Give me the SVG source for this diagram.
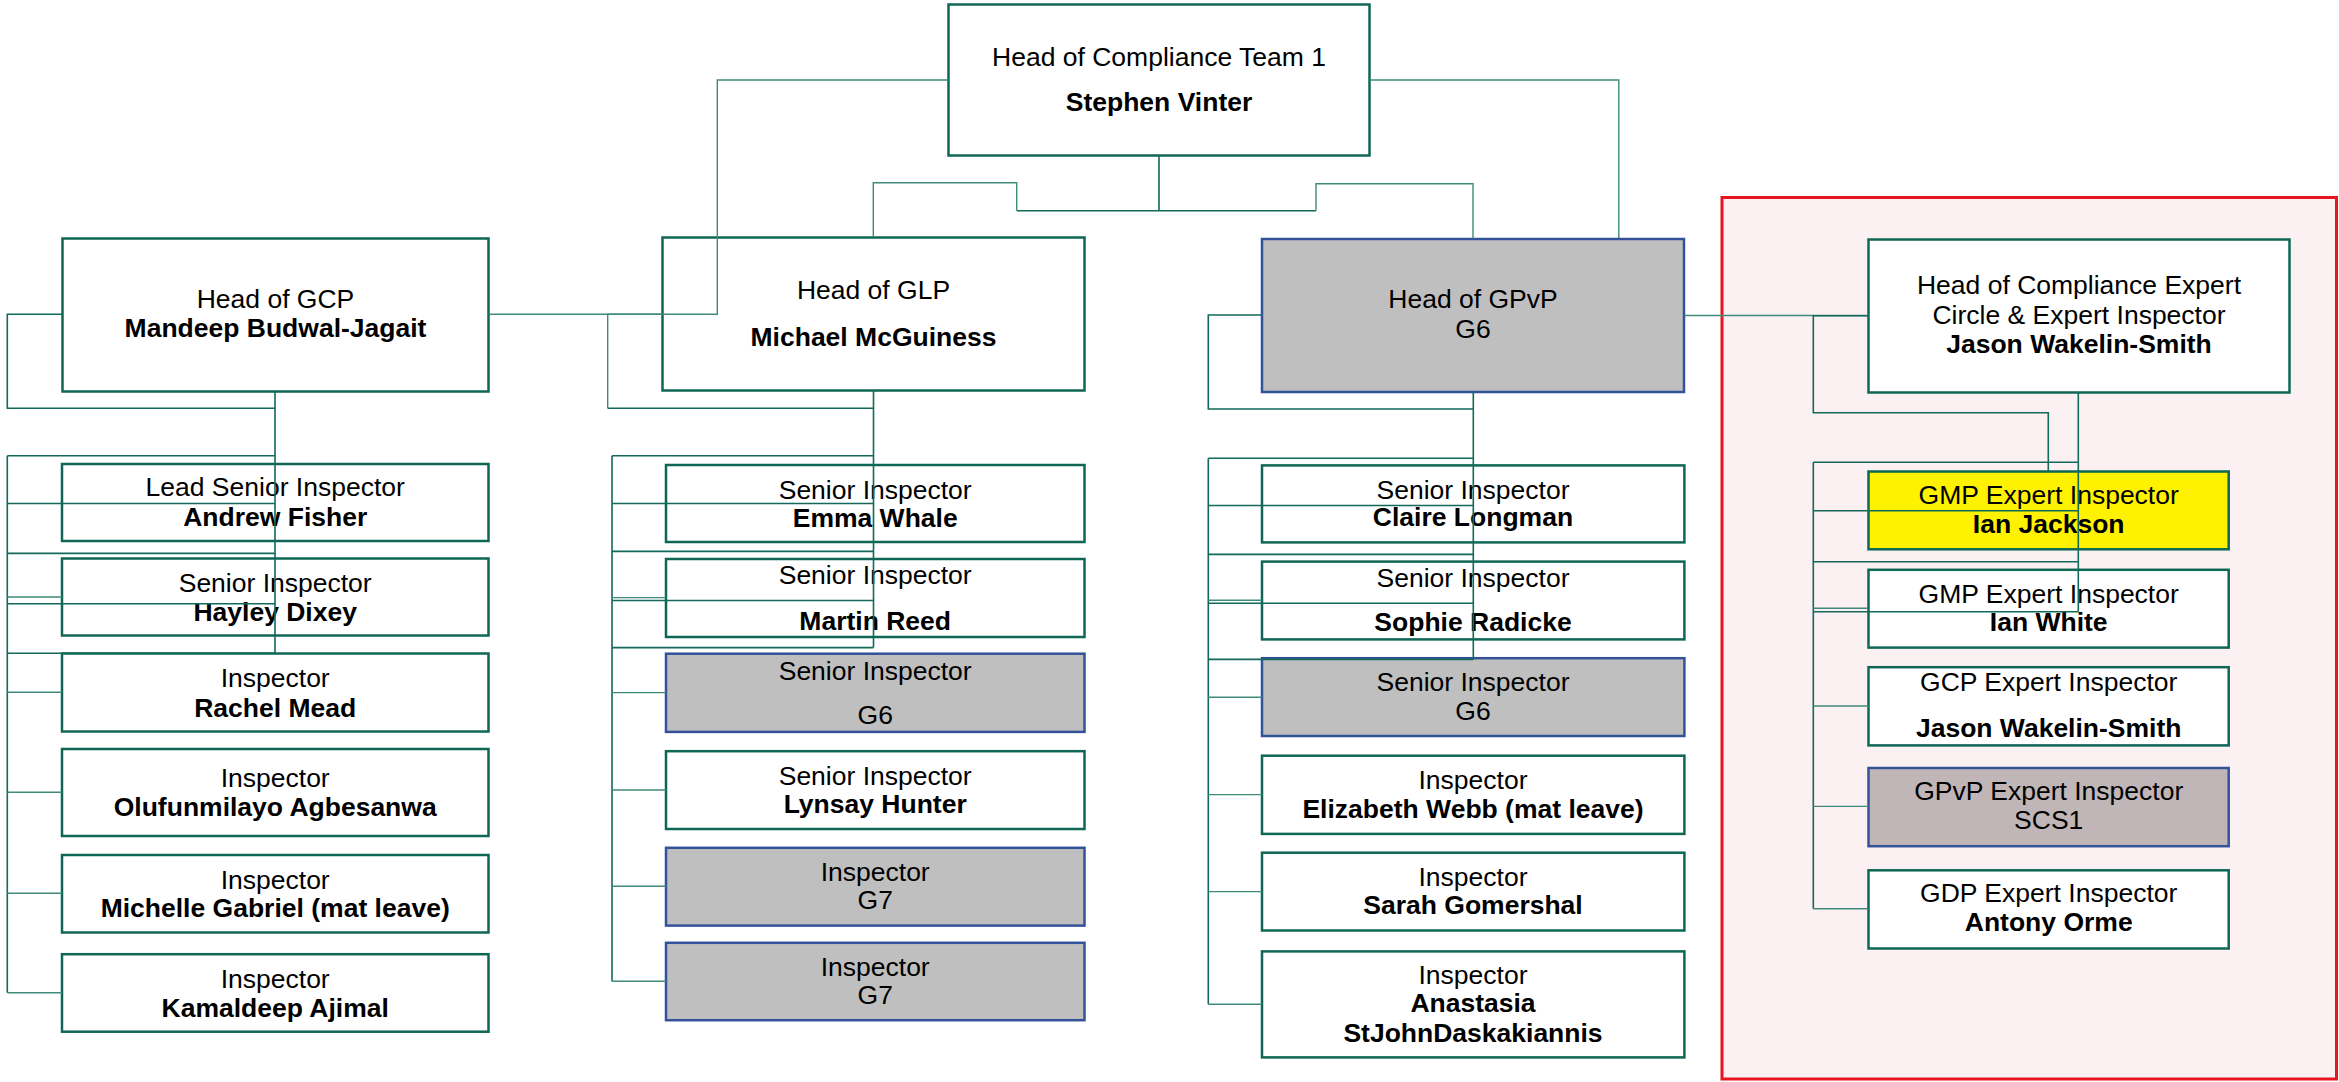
<svg xmlns="http://www.w3.org/2000/svg" width="2339" height="1082" viewBox="0 0 2339 1082">
<style>
.box{fill:#ffffff;stroke:#0e6655;stroke-width:2.5}
.grey{fill:#bfbfbf;stroke:#34529a;stroke-width:2.5}
.yel{fill:#fff200;stroke:#0e6655;stroke-width:2.5}
.mauve{fill:#c0b6b7;stroke:#34529a;stroke-width:2.5}
.t{font-family:"Liberation Sans",Arial,sans-serif;font-size:26.5px;fill:#000;text-anchor:middle}
.b{font-weight:bold}
.c{fill:none;stroke:#13695a;stroke-width:1.6}
.cl{fill:none;stroke:#3f8a7a;stroke-width:1.4}
</style>
<rect width="2339" height="1082" fill="#ffffff"/>
<g id="expert-panel"><rect x="1722" y="197.5" width="614.5" height="881.5" fill="#fcf1f2" stroke="#e8141f" stroke-width="3"/></g>

<g id="n-top"><rect class="box" x="948.5" y="4.5" width="421" height="151"/><text class="t" x="1159" y="65.5">Head of Compliance Team 1</text><text class="t b" x="1159" y="110.5">Stephen Vinter</text></g>
<g id="n-gcp"><rect class="box" x="62.5" y="238.5" width="426" height="153"/><text class="t" x="275.5" y="308.3">Head of GCP</text><text class="t b" x="275.5" y="337.3">Mandeep Budwal-Jagait</text></g>
<g id="n-glp"><rect class="box" x="662.5" y="237.5" width="422" height="153"/><text class="t" x="873.5" y="299.3">Head of GLP</text><text class="t b" x="873.5" y="345.7">Michael McGuiness</text></g>
<g id="n-gpvp"><rect class="grey" x="1262" y="239" width="422" height="153"/><text class="t" x="1473" y="308.3">Head of GPvP</text><text class="t" x="1473" y="337.7">G6</text></g>
<g id="n-expert"><rect class="box" x="1868.5" y="239.5" width="421" height="153"/><text class="t" x="2079" y="294.3">Head of Compliance Expert</text><text class="t" x="2079" y="324">Circle &amp; Expert Inspector</text><text class="t b" x="2079" y="352.7">Jason Wakelin-Smith</text></g>

<g id="n-fisher"><rect class="box" x="62" y="464" width="426.5" height="77"/><text class="t" x="275.2" y="496">Lead Senior Inspector</text><text class="t b" x="275.2" y="526">Andrew Fisher</text></g>
<g id="n-dixey"><rect class="box" x="62" y="558.5" width="426.5" height="77"/><text class="t" x="275.2" y="591.5">Senior Inspector</text><text class="t b" x="275.2" y="620.5">Hayley Dixey</text></g>
<g id="n-mead"><rect class="box" x="62" y="653.5" width="426.5" height="78"/><text class="t" x="275.2" y="687">Inspector</text><text class="t b" x="275.2" y="716.5">Rachel Mead</text></g>
<g id="n-agbesanwa"><rect class="box" x="62" y="749" width="426.5" height="87"/><text class="t" x="275.2" y="787">Inspector</text><text class="t b" x="275.2" y="816">Olufunmilayo Agbesanwa</text></g>
<g id="n-gabriel"><rect class="box" x="62" y="855" width="426.5" height="77.5"/><text class="t" x="275.2" y="888.5">Inspector</text><text class="t b" x="275.2" y="917">Michelle Gabriel (mat leave)</text></g>
<g id="n-ajimal"><rect class="box" x="62" y="954.2" width="426.5" height="77.5"/><text class="t" x="275.2" y="987.5">Inspector</text><text class="t b" x="275.2" y="1016.5">Kamaldeep Ajimal</text></g>

<g id="n-whale"><rect class="box" x="666" y="465" width="418.5" height="77"/><text class="t" x="875.2" y="498.5">Senior Inspector</text><text class="t b" x="875.2" y="526.5">Emma Whale</text></g>
<g id="n-reed"><rect class="box" x="666" y="559" width="418.5" height="78"/><text class="t" x="875.2" y="584">Senior Inspector</text><text class="t b" x="875.2" y="630">Martin Reed</text></g>
<g id="n-glp-g6"><rect class="grey" x="666" y="653.7" width="418.5" height="78.2"/><text class="t" x="875.2" y="679.5">Senior Inspector</text><text class="t" x="875.2" y="723.5">G6</text></g>
<g id="n-hunter"><rect class="box" x="666" y="751.2" width="418.5" height="77.8"/><text class="t" x="875.2" y="784.7">Senior Inspector</text><text class="t b" x="875.2" y="813.4">Lynsay Hunter</text></g>
<g id="n-glp-g7a"><rect class="grey" x="666" y="847.8" width="418.5" height="77.8"/><text class="t" x="875.2" y="881.4">Inspector</text><text class="t" x="875.2" y="909.2">G7</text></g>
<g id="n-glp-g7b"><rect class="grey" x="666" y="942.8" width="418.5" height="77.4"/><text class="t" x="875.2" y="976.4">Inspector</text><text class="t" x="875.2" y="1004.2">G7</text></g>

<g id="n-longman"><rect class="box" x="1262" y="465.4" width="422.4" height="77"/><text class="t" x="1473" y="498.5">Senior Inspector</text><text class="t b" x="1473" y="526.4">Claire Longman</text></g>
<g id="n-radicke"><rect class="box" x="1262" y="561.6" width="422.4" height="77.8"/><text class="t" x="1473" y="586.6">Senior Inspector</text><text class="t b" x="1473" y="631.2">Sophie Radicke</text></g>
<g id="n-gpvp-g6"><rect class="grey" x="1262" y="658.2" width="422.4" height="77.8"/><text class="t" x="1473" y="690.6">Senior Inspector</text><text class="t" x="1473" y="720">G6</text></g>
<g id="n-webb"><rect class="box" x="1262" y="755.7" width="422.4" height="78.2"/><text class="t" x="1473" y="788.8">Inspector</text><text class="t b" x="1473" y="817.5">Elizabeth Webb (mat leave)</text></g>
<g id="n-gomershal"><rect class="box" x="1262" y="852.7" width="422.4" height="77.8"/><text class="t" x="1473" y="885.5">Inspector</text><text class="t b" x="1473" y="914.1">Sarah Gomershal</text></g>
<g id="n-daskakiannis"><rect class="box" x="1262" y="951.4" width="422.4" height="106"/><text class="t" x="1473" y="983.7">Inspector</text><text class="t b" x="1473" y="1012">Anastasia</text><text class="t b" x="1473" y="1041.9">StJohnDaskakiannis</text></g>

<g id="n-jackson"><rect class="yel" x="1868.5" y="471.5" width="360.2" height="77.8"/><text class="t" x="2048.7" y="504.3">GMP Expert Inspector</text><text class="t b" x="2048.7" y="533">Ian Jackson</text></g>
<g id="n-white"><rect class="box" x="1868.5" y="569.8" width="360.2" height="77.8"/><text class="t" x="2048.7" y="602.5">GMP Expert Inspector</text><text class="t b" x="2048.7" y="631.2">Ian White</text></g>
<g id="n-wakelin"><rect class="box" x="1868.5" y="667.2" width="360.2" height="78.2"/><text class="t" x="2048.7" y="691">GCP Expert Inspector</text><text class="t b" x="2048.7" y="736.8">Jason Wakelin-Smith</text></g>
<g id="n-scs1"><rect class="mauve" x="1868.5" y="768" width="360.2" height="78.2"/><text class="t" x="2048.7" y="800.3">GPvP Expert Inspector</text><text class="t" x="2048.7" y="829">SCS1</text></g>
<g id="n-orme"><rect class="box" x="1868.5" y="870.3" width="360.2" height="78.2"/><text class="t" x="2048.7" y="901.8">GDP Expert Inspector</text><text class="t b" x="2048.7" y="931.3">Antony Orme</text></g>

<g id="connectors">
<!-- top level -->
<path class="cl" d="M948 80H717.3V314.3H488.8"/>
<path class="cl" d="M1370 80H1618.8V238"/>
<path class="c" d="M1159 156V210.7M1016.7 210.7H1316"/>
<path class="cl" d="M1016.7 210.7V182.7H873.3V237"/>
<path class="cl" d="M1316 210.7V183.7H1473V238.5"/>
<path class="cl" d="M1684.4 315.5H1868.3"/>
<!-- GCP column -->
<path class="c" d="M62 314.3H7.3V408.3H275M275 391.7V653.3"/>
<path class="c" d="M7.3 455.7V992.7"/>
<path class="c" d="M7.3 455.7H275M7.3 503.5H275M7.3 553.4H275M7.3 603.8H275M7.3 653.3H275"/>
<path class="cl" d="M7.3 597H62M7.3 692.3H62M7.3 792.3H62M7.3 893.3H62M7.3 992.7H62"/>
<!-- GLP column -->
<path class="cl" d="M662.3 314.3H607.7V408.3"/>
<path class="c" d="M607.7 408.3H873.5M873.5 390V647.6"/>
<path class="c" d="M612 455.7V981.3"/>
<path class="c" d="M612 455.7H873.5M612 503.5H873.5M612 551.4H873.5M612 600.5H873.5M612 647.6H873.5"/>
<path class="cl" d="M612 597.6H666M612 692.6H666M612 790H666M612 886.3H666M612 981.3H666"/>
<!-- GPvP column -->
<path class="c" d="M1262 315H1208.3V409H1473.3M1473.3 391.7V659.6"/>
<path class="c" d="M1208.3 458.3V1004.2"/>
<path class="c" d="M1208.3 458.3H1473.3M1208.3 505.5H1473.3M1208.3 554.4H1473.3M1208.3 603.3H1473.3M1208.3 659.4H1473.3"/>
<path class="cl" d="M1208.3 600.3H1262M1208.3 697.3H1262M1208.3 794.6H1262M1208.3 891.6H1262M1208.3 1004.2H1262"/>
<!-- Expert column -->
<path class="c" d="M1868.3 315.7H1813.3V412.7H2048.3V471.5"/>
<path class="c" d="M2078.3 392.3V611.7"/>
<path class="c" d="M1813.3 462.3V908.8"/>
<path class="c" d="M1813.3 462.3H2078.3M1813.3 510.7H2078.3M1813.3 561.7H2078.3M1813.3 611.7H2078.3"/>
<path class="cl" d="M1813.3 608.3H1868.3M1813.3 706H1868.3M1813.3 806.4H1868.3M1813.3 908.8H1868.3"/>
</g>
</svg>
